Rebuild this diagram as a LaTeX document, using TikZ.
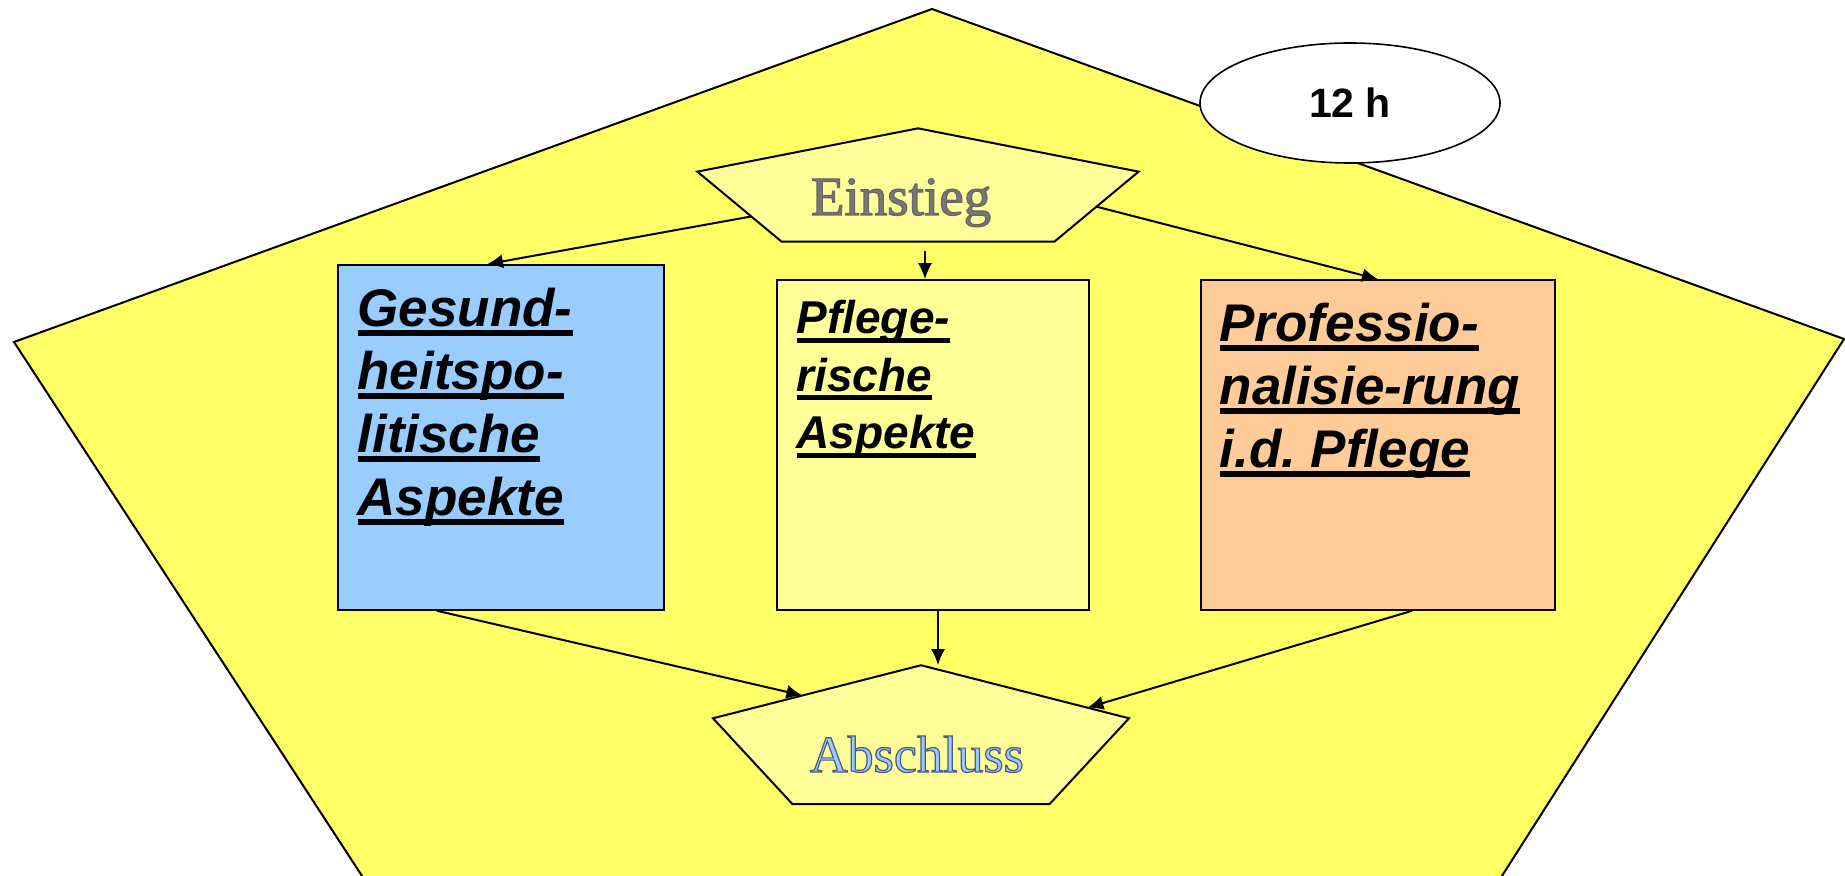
\documentclass[tikz,border=0pt]{standalone}
\usepackage{fontspec}
\setmainfont{Liberation Serif}
\setsansfont{Liberation Sans}
\usetikzlibrary{shapes.geometric,arrows.meta,calc}

\definecolor{bgyellow}{HTML}{FFFF66}
\definecolor{lightyellow}{HTML}{FFFF99}
\definecolor{skyblue}{HTML}{99CCFF}
\definecolor{peach}{HTML}{FFCC99}
\definecolor{titlegray}{HTML}{777777}

\newsavebox{\ulbox}
\newcommand{\ulline}[1]{\sbox{\ulbox}{#1}\rlap{\rule[-0.19em]{\wd\ulbox}{0.11em}}\usebox{\ulbox}}
\newcommand{\outlined}[3]{{\color{#1}\special{pdf:literal direct 2 Tr 0.6 w #2 RG}#3\special{pdf:literal direct 0 Tr}}}

\begin{document}
\begin{tikzpicture}[x=0.5pt, y=-0.5pt,
  stage/.style={regular polygon, regular polygon sides=5, draw, line width=1pt, fill=lightyellow,
    inner sep=0pt, outer sep=0pt, transform shape},
  topic/.style={draw, line width=0.8pt, inner sep=0pt, minimum height=165pt},
  topictext/.style={anchor=north west, inner sep=0pt, align=left,
    font=\sffamily\bfseries\itshape\fontsize{26.5}{31.5}\selectfont},
  flow/.style={-{Latex[length=8pt,width=7pt]}, line width=1pt}]
%%% course overview %%%

      \fill[white] (0,0) rectangle (1845,876);
      \useasboundingbox (0,0) rectangle (1845,876);
      \draw[fill=bgyellow, line width=1pt] (14,342) -- (932,9) -- (1844,339) -- (1500,879) -- (364,879) -- cycle;

      %% time
      \node[ellipse, draw, fill=white, line width=0.8pt, minimum width=150pt, minimum height=60pt,
        font=\sffamily\bfseries\fontsize{20.5}{24}\selectfont] (hours) at (1350,103) {12 h};

      %% topics
      \node[topic, fill=skyblue, minimum width=163pt, minimum height=172.5pt] (gesund) at (501,437.5) {};
      \node[topic, fill=lightyellow, minimum width=156pt] (pflege) at (933,445) {};
      \node[topic, fill=peach, minimum width=177pt] (prof) at (1378,445) {};
      %
      \node[topictext] (gesundtext) at ([xshift=10pt,yshift=-11.5pt]gesund.north west)
        {\ulline{Gesund-}\\ \ulline{heitspo-}\\ \ulline{litische}\\ \ulline{Aspekte}};
      \node[topictext, font=\sffamily\bfseries\itshape\fontsize{23}{28.75}\selectfont] (pflegetext)
        at ([xshift=10pt,yshift=-10.5pt]pflege.north west)
        {\ulline{Pflege-}\\ \ulline{rische}\\ \ulline{Aspekte}};
      \node[topictext] (proftext) at ([xshift=9.5pt,yshift=-11.5pt]prof.north west)
        {\ulline{Professio-}\\ \ulline{nalisie-rung}\\ \ulline{i.d.\ Pflege}};

      %% start and end
      \node[stage, minimum size=232pt, yscale=0.27] (einbox) at (918,191) {};
      \node[stage, minimum size=218.7pt, yscale=0.351] (absbox) at (921,742) {};

      %% arrows
      \draw[flow] ($(einbox.corner 2)!0.64!(einbox.corner 3)$) -- ([xshift=-7pt]gesund.north);
      \coordinate (pflegein) at ([xshift=-4pt]pflege.north);
      \draw[flow] (pflegein) ++(0,-28) -- (pflegein);
      \draw[flow] (einbox.side 4) -- (prof.north);
      %
      \draw[flow] ([xshift=-32pt]gesund.south) -- ($(absbox.corner 2)!0.43!(absbox.corner 1)$);
      \draw[flow] ([xshift=2.5pt]pflege.south) -- ([xshift=2.5pt]pflege.south |- absbox.corner 1);
      \draw[flow] ([xshift=17pt]prof.south) -- ($(absbox.corner 5)!0.2!(absbox.corner 1)$);

      %% titles
      \node[anchor=base, inner sep=0pt, font=\fontsize{27.5}{33}\selectfont] (ein) at (901,215)
        {\outlined{titlegray}{0.4 0.4 0.4}{Einstieg}};
      \node[anchor=base, inner sep=0pt, font=\fontsize{26}{31}\selectfont] (abs) at (917,772)
        {\outlined{skyblue}{0.3 0.35 0.5}{Abschluss}};

\end{tikzpicture}
\end{document}
